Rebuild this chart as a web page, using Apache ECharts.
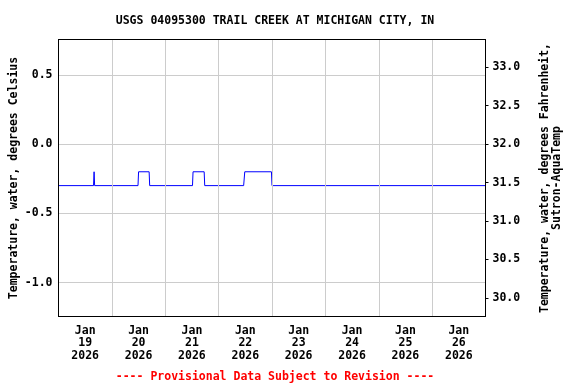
<!DOCTYPE html>
<html>
<head>
<meta charset="utf-8">
<script src="https://cdn.jsdelivr.net/npm/echarts@6/dist/echarts.min.js"></script>
<style>
html,body{margin:0;padding:0;background:#fff;}
#chart{width:576px;height:384px;}
</style>
</head>
<body>
<div id="chart"></div>
<script>
// ---- data ----
var titleText = 'USGS 04095300 TRAIL CREEK AT MICHIGAN CITY, IN';
var footerText = '---- Provisional Data Subject to Revision ----';
var leftAxisName = 'Temperature, water, degrees Celsius';
var rightAxisName = 'Temperature, water, degrees Fahrenheit,\nSutron-AquaTemp';
var dayLabels = ['Jan\n19\n2026','Jan\n20\n2026','Jan\n21\n2026','Jan\n22\n2026','Jan\n23\n2026','Jan\n24\n2026','Jan\n25\n2026','Jan\n26\n2026'];
var xStart = '2026-01-18 12:00';
var xEnd = '2026-01-26 12:00';
var obsTimes = [
  '2026-01-18 12:00','2026-01-19 03:45','2026-01-19 04:00','2026-01-19 04:15',
  '2026-01-19 23:45','2026-01-20 00:00','2026-01-20 04:45','2026-01-20 05:00',
  '2026-01-21 00:15','2026-01-21 00:30','2026-01-21 05:30','2026-01-21 05:45',
  '2026-01-21 23:15','2026-01-21 23:45','2026-01-22 11:45','2026-01-22 12:00',
  '2026-01-26 12:00'
];
var obsTempC = [
  -0.3,-0.3,-0.2,-0.3,
  -0.3,-0.2,-0.2,-0.3,
  -0.3,-0.2,-0.2,-0.3,
  -0.3,-0.2,-0.2,-0.3,
  -0.3
];
var leftMin = -1.245, leftMax = 0.755;
var rightTicks = [30.0,30.5,31.0,31.5,32.0,32.5,33.0];

function utc(s){
  var p = s.split(/[- :]/).map(Number);
  return Date.UTC(p[0], p[1]-1, p[2], p[3], p[4]);
}
var seriesData = obsTimes.map(function(t,i){ return [utc(t), obsTempC[i]]; });

var FONT = 'DejaVu Sans Mono';
var TXT = {fontFamily:FONT, fontWeight:'bold', fontSize:11.5, color:'#000'};
var GL = 58.5, GT = 39.5, GW = 427, GH = 277;
var chart = echarts.init(document.getElementById('chart'), null, {renderer:'canvas'});
chart.setOption({
  animation:false,
  backgroundColor:'#fff',
  title:[
    {text:titleText, left:GL + GW/2 - 2, top:10, textAlign:'center', textStyle:TXT},
    {text:footerText, left:GL + GW/2 - 2, top:366, textAlign:'center',
     textStyle:Object.assign({}, TXT, {color:'#ff0000'})}
  ],
  grid:{left:GL, top:GT, width:GW, height:GH, show:false, outerBoundsMode:'none', containLabel:false},
  xAxis:[
    {type:'category', data:dayLabels, boundaryGap:true, position:'bottom',
     axisLine:{show:true, onZero:false, lineStyle:{color:'#000', width:1}}, axisTick:{show:false},
     splitLine:{show:true, lineStyle:{color:'#cccccc', width:1}},
     axisLabel:Object.assign({interval:0, margin:8, lineHeight:12.5}, TXT), z:3},
    {type:'value', min:utc(xStart), max:utc(xEnd), show:false, splitLine:{show:false}},
    {type:'category', data:dayLabels, position:'top', boundaryGap:true,
     axisLine:{show:true, onZero:false, lineStyle:{color:'#000', width:1}}, axisTick:{show:false},
     axisLabel:{show:false}, splitLine:{show:false}, z:3}
  ],
  yAxis:[
    {type:'value', min:leftMin, max:leftMax, splitNumber:4, position:'left',
     axisLine:{show:true, onZero:false, lineStyle:{color:'#000', width:1}}, axisTick:{show:false},
     splitLine:{show:true, lineStyle:{color:'#cccccc', width:1}},
     axisLabel:Object.assign({showMinLabel:false, showMaxLabel:false, margin:6,
       formatter:function(v){ return v.toFixed(1); }}, TXT), z:3},
    {type:'value', min:leftMin*1.8+32, max:leftMax*1.8+32, position:'right',
     axisLine:{show:true, onZero:false, lineStyle:{color:'#000', width:1}},
     axisTick:{show:true, inside:false, length:3, customValues:rightTicks, lineStyle:{color:'#000'}},
     splitLine:{show:false},
     axisLabel:Object.assign({customValues:rightTicks, margin:7,
       formatter:function(v){ return v.toFixed(1); }}, TXT), z:3}
  ],
  graphic:[
    {type:'text', x:14, y:GT + GH/2, rotation:Math.PI/2,
     style:{text:leftAxisName, align:'center', verticalAlign:'middle',
       font:'bold 11.5px "DejaVu Sans Mono"', fill:'#000'}},
    {type:'text', x:551, y:GT + GH/2, rotation:Math.PI/2,
     style:{text:rightAxisName, align:'center', verticalAlign:'middle', lineHeight:12.5,
       font:'bold 11.5px "DejaVu Sans Mono"', fill:'#000'}}
  ],
  series:[
    {type:'line', xAxisIndex:1, yAxisIndex:0, data:seriesData, showSymbol:false, symbol:'none',
     lineStyle:{color:'#0000ff', width:1}, clip:true, z:2}
  ]
});
</script>
</body>
</html>
